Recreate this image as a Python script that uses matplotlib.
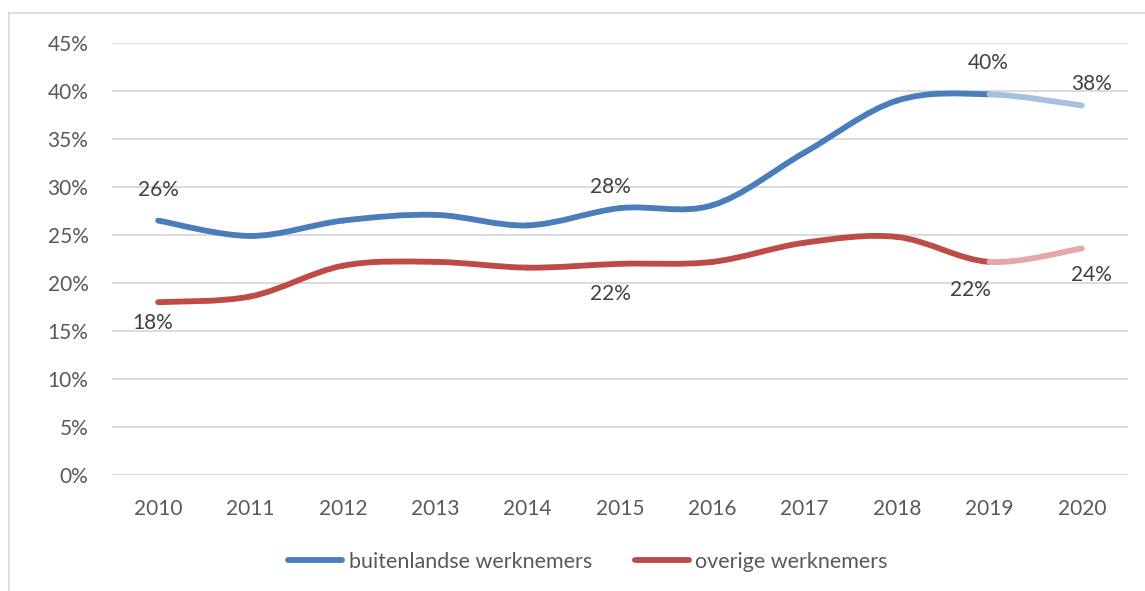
import matplotlib
matplotlib.use("Agg")
import matplotlib.pyplot as plt
from matplotlib.path import Path
from matplotlib.patches import PathPatch
from matplotlib.lines import Line2D
import numpy as np

years = ["2010", "2011", "2012", "2013", "2014", "2015", "2016", "2017", "2018", "2019", "2020"]
buitenlandse = [26.5, 24.9, 26.5, 27.1, 26.0, 27.8, 28.1, 33.6, 39.0, 39.65, 38.5]
overige = [18.0, 18.6, 21.8, 22.2, 21.6, 22.0, 22.2, 24.2, 24.8, 22.2, 23.6]
yticks = [0, 5, 10, 15, 20, 25, 30, 35, 40, 45]

blue, blue_light = "#4A7EBB", "#A7C0DE"
red, red_light = "#BE4B48", "#E3A9A8"
txt = "#595959"
lbl = "#404040"

plt.rcParams["font.family"] = ["Lato", "DejaVu Sans"]

W, H = 1145, 591
fig = plt.figure(figsize=(W / 100, H / 100), dpi=100)
ax = fig.add_axes([112 / W, (H - 475) / H, (1128 - 112) / W, (475 - 43) / H])

x = np.arange(len(years))


def smooth_segments(ax, xs, ys, colors, lw):
    n = len(xs)
    for i in range(n - 1):
        p0 = np.array([xs[i - 1], ys[i - 1]]) if i > 0 else np.array([xs[i], ys[i]])
        p1 = np.array([xs[i], ys[i]])
        p2 = np.array([xs[i + 1], ys[i + 1]])
        p3 = np.array([xs[i + 2], ys[i + 2]]) if i + 2 < n else p2
        c1 = p1 + (p2 - p0) / 6.0
        c2 = p2 - (p3 - p1) / 6.0
        path = Path([p1, c1, c2, p2], [Path.MOVETO, Path.CURVE4, Path.CURVE4, Path.CURVE4])
        ax.add_patch(PathPatch(path, facecolor="none", edgecolor=colors[i], lw=lw,
                               capstyle="round", joinstyle="round", zorder=3))


bcols = [blue] * (len(years) - 2) + [blue_light]
rcols = [red] * (len(years) - 2) + [red_light]
smooth_segments(ax, x, buitenlandse, bcols, 4.2)
smooth_segments(ax, x, overige, rcols, 4.2)

ax.set_xlim(-0.5, len(years) - 0.5)
ax.set_ylim(0, 45)
ax.set_yticks(yticks)
ax.set_yticklabels([f"{v}%" for v in yticks])
ax.set_xticks(x)
ax.set_xticklabels(years)
ax.grid(axis="y", color="#D9D9D9", lw=1.3)
ax.set_axisbelow(True)
for s in ax.spines.values():
    s.set_visible(False)
ax.tick_params(axis="both", length=0, labelsize=15, colors=txt)
ax.tick_params(axis="y", pad=17)
ax.tick_params(axis="x", pad=17)

# data labels (index, series, dx px, dy px)
labels = [
    (0, buitenlandse, 0, 31), (0, overige, -6, -21),
    (5, buitenlandse, -10, 21), (5, overige, -10, -30),
    (9, buitenlandse, -1, 31), (10, buitenlandse, 10, 21),
    (9, overige, -19, -28), (10, overige, 10, -27),
]
for i, ser, dx, dy in labels:
    ax.annotate(f"{round(ser[i])}%", (x[i], ser[i]), xytext=(dx, dy), textcoords="offset pixels",
                ha="center", va="center", fontsize=15, color=lbl)

handles = [Line2D([], [], color=blue, lw=4.2, solid_capstyle="round"),
           Line2D([], [], color=red, lw=4.2, solid_capstyle="round")]
fig.legend(handles, ["buitenlandse werknemers", "overige werknemers"], loc="center",
           bbox_to_anchor=(588 / W, (H - 562) / H), ncol=2, frameon=False, fontsize=15.5,
           labelcolor=txt, handlelength=2.5, handletextpad=0.3, columnspacing=2.0)

# outer chart border
fig.add_artist(Line2D([8.5 / W, 8.5 / W], [0, (H - 13) / H], color="#D9D9D9", lw=1.2))
fig.add_artist(Line2D([8.5 / W, 1], [(H - 13) / H, (H - 13) / H], color="#D9D9D9", lw=1.2))

fig.savefig("out.png", dpi=100)
